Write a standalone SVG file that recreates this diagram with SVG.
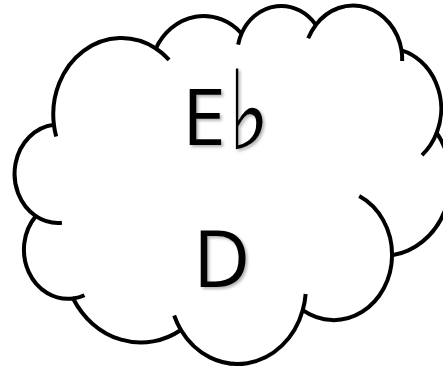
<svg xmlns="http://www.w3.org/2000/svg" width="443" height="367" viewBox="0 0 443 367">
  <defs>
    <style>
      .outline { fill: #ffffff; stroke: #000000; stroke-width: 4; stroke-linejoin: round; }
      .deco { fill: none; stroke: #000000; stroke-width: 4; stroke-linecap: butt; }
      .lbl { font-family: "Open Sans", "DejaVu Sans", sans-serif; font-size: 79px; font-weight: 500; fill: #000000; }
      .flat { font-family: "DejaVu Sans", sans-serif; font-size: 110px; fill: #000000; }
    </style>
    <filter id="shadow" x="-20%" y="-20%" width="150%" height="150%">
      <feDropShadow dx="2" dy="2" stdDeviation="1.5" flood-color="#000000" flood-opacity="0.3"/>
    </filter>
  </defs>
  <rect width="443" height="367" fill="#ffffff"/>
  <g id="cloud" transform="translate(14.5 5.4) scale(0.0101 0.008304)">
    <path class="outline" vector-effect="non-scaling-stroke" d="M3900,14370 A6753,9190 0 0 1 14000,5192 A5333,7267 0 0 1 22480,3380 A4365,5945 0 0 1 29835,2350 A4857,6595 0 0 1 38324,5426 A5333,7273 0 0 1 41798,15354 A6775,9220 0 0 1 37384,30098 A5785,7867 0 0 1 28535,36708 A6752,9215 0 0 1 16478,39090 A7720,10543 0 0 1 5803,35297 A4360,5918 0 0 1 2111,25376 A4345,5945 0 0 1 3900,14370 Z"/>
    <path class="deco" vector-effect="non-scaling-stroke" d="M4693,26177 A4345,5945 0 0 1 2111,25376 M6928,34899 A4360,5918 0 0 1 5803,35297 M16478,39090 A6752,9215 0 0 1 15809,37346 M28827,34751 A6752,9215 0 0 1 28535,36708 M34129,22954 A5785,7867 0 0 1 37384,30098 M41798,15354 A5333,7273 0 0 1 40350,18031 M38324,5426 A4857,6595 0 0 1 38382,6697 M29078,3952 A4857,6595 0 0 1 29835,2350 M22141,4720 A4365,5945 0 0 1 22480,3380 M14000,5192 A6753,9190 0 0 1 15305,6551 M4127,15789 A6753,9190 0 0 1 3900,14370"/>
  </g>
  <g id="label-eflat" filter="url(#shadow)">
    <text class="lbl" x="182" y="145">E</text>
    <text class="flat" transform="translate(228 149) scale(0.8 1)">♭</text>
  </g>
  <g id="label-d" filter="url(#shadow)">
    <text class="lbl" x="221.7" y="286.7" text-anchor="middle">D</text>
  </g>
</svg>
